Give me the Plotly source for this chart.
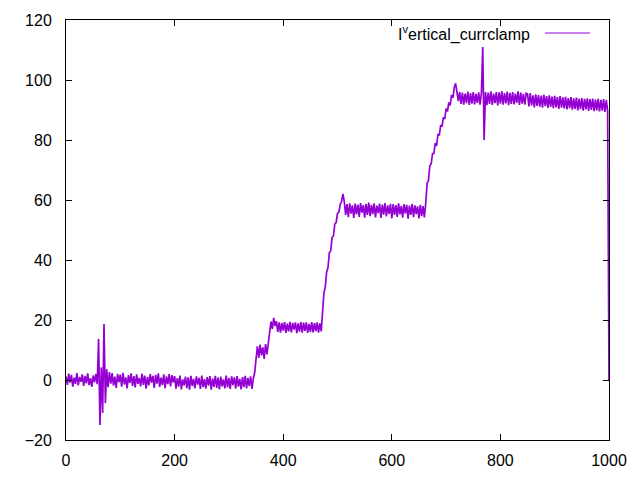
import plotly.graph_objects as go

# ---- data (sample step 2.5 on x) ----
x_step = 2.5
seg_base_a = [1.2, -1.6, 2.1, -0.9, 1.7, -2.2, 0.8, -1.3, 2.3, -1.8,
              1.0, -0.6, 1.9, -2.0, 1.4, -1.1, 2.2, -1.7, 0.6, -2.3,
              1.5, -0.8, 2.0, -1.4]
seg_spike_a = [13.7, -15.0, 4.2, -11.0, 18.7, -7.7, 3.6]
seg_base_b = [-2.4, 2.6, -1.2, 2.3, -1.9, 1.1, -2.6, 2.0, -0.7, 1.8,
              -2.2, 2.4, -1.5, 0.9, -2.8, 1.6, -1.0, 2.2, -2.0, 1.3,
              -2.5, 1.9, -1.3, 0.7, -2.1, 2.1, -1.6, 1.5, -2.9, 1.0,
              -1.8, 2.0, -0.9, 1.4, -2.6, 1.7, -1.2, 2.2, -2.3, 0.8,
              -1.7, 1.9, -2.7, 1.2, -1.4, 2.0, -2.1, 1.6, -0.8]
seg_base_c = [1.3, -2.9, 0.6, -2.2, 1.5, -3.1, 0.2, -1.8, 1.1, -2.7,
              0.9, -3.2, 1.4, -2.0, 0.4, -2.8, 1.2, -1.5, 0.7, -3.0,
              1.5, -2.4, 0.3, -2.9, 1.0, -1.9, 1.3, -3.2, 0.5, -2.3,
              1.4, -2.6, 0.8, -3.1, 1.1, -2.1, 0.2, -2.8, 1.5, -2.5,
              0.6, -3.0, 1.2, -1.7, 0.9, -2.9, 1.3, -2.2, 0.4, -3.1,
              1.0, -2.4, 1.4, -2.8, 0.7, -2.0, 1.2, -3.0, 0.5]
seg_step10 = [2.5, 7.0, 11.2, 7.4, 11.8, 8.2, 10.9, 7.0, 12.0, 8.5]
seg_rise20 = [12.5, 16.0, 19.5, 17.0, 20.7]
seg_plat20 = [18.0, 19.6, 16.0, 19.2, 15.8, 19.0, 16.5, 19.3, 15.7, 18.8,
              16.2, 19.4, 15.9, 19.0, 16.8, 19.2, 15.6, 18.9, 16.1, 19.3,
              15.8, 19.1, 16.4, 19.2, 15.7, 18.7, 16.0, 19.3, 15.9, 19.0,
              16.3, 19.2, 15.8, 18.9, 16.2]
seg_rise60 = [23.0, 29.0, 31.0, 36.0, 37.5, 42.5, 43.0, 47.5, 48.0, 52.0,
              52.5, 55.5, 56.0, 58.5, 59.5, 62.0]
seg_plat56 = [59.5, 55.0, 58.6, 54.3, 58.9, 55.5, 58.2, 54.0, 58.8, 55.2,
              58.5, 54.4, 59.0, 55.8, 58.3, 54.1, 58.7, 55.0, 59.1, 54.6,
              58.4, 55.3, 58.9, 54.2, 58.1, 55.6, 58.8, 54.0, 58.5, 55.1,
              59.0, 54.5, 58.2, 55.4, 58.7, 53.9, 58.6, 55.0, 58.3, 54.4,
              58.9, 55.2, 58.0, 54.1, 58.6, 55.5, 58.4, 53.8, 58.1, 55.0,
              58.7, 54.3, 58.2, 55.3, 57.9, 53.9, 58.4, 54.6, 58.0, 54.2]
seg_rise95 = [59.0, 65.5, 66.5, 71.5, 72.0, 75.5, 75.5, 79.0, 78.0, 82.0,
              81.5, 85.0, 84.5, 87.5, 87.0, 90.5, 89.5, 92.5, 91.5, 95.0,
              94.0, 97.5, 98.9, 96.5]
seg_plat94a = [93.0, 96.0, 92.0, 95.8, 91.8, 95.5, 92.3, 96.1, 91.7, 95.6,
               92.1, 96.0, 91.9, 95.4, 92.4, 95.9, 91.8]
seg_spike_b = [95.5, 111.0, 80.0]
seg_plat94b = [96.0, 91.6, 95.8, 92.0, 96.2, 91.7, 95.5, 92.3, 96.0, 91.5,
               95.9, 92.1, 96.3, 91.8, 95.6, 92.2, 96.1, 91.6, 95.7, 92.0,
               96.0, 91.9, 95.5, 92.4, 96.2, 91.7, 95.8, 92.1, 95.4, 91.8,
               95.6]
seg_plat92 = [95.3, 91.2, 95.6, 91.5, 94.9, 90.9, 95.2, 91.4, 95.0, 91.1,
              94.8, 90.8, 95.1, 91.3, 94.6, 90.7, 94.9, 91.0, 94.5, 90.6,
              94.7, 90.9, 94.3, 90.4, 94.6, 90.8, 94.2, 90.5, 94.4, 90.2,
              94.0, 90.6, 94.3, 90.1, 93.9, 90.4, 94.1, 89.9, 93.8, 90.3,
              94.0, 89.8, 93.7, 90.2, 93.9, 89.7, 93.6, 90.0, 93.8, 89.6,
              93.5, 89.9, 93.7, 89.5, 93.4, 89.8, 93.6, 89.4, 93.3, 89.7]
seg_end = [0.0]

y_values = (seg_base_a + seg_spike_a + seg_base_b + seg_base_c + seg_step10 +
            seg_rise20 + seg_plat20 + seg_rise60 + seg_plat56 + seg_rise95 +
            seg_plat94a + seg_spike_b + seg_plat94b + seg_plat92 + seg_end)
x_values = [i * x_step for i in range(len(y_values))]

x_ticks = [0, 200, 400, 600, 800, 1000]
y_ticks = [-20, 0, 20, 40, 60, 80, 100, 120]
series_name = "I<sup>v</sup>ertical_currclamp"

line_color = "#9400D3"
font_family = "Liberation Sans, Arial, sans-serif"

fig = go.Figure()
fig.add_trace(go.Scatter(x=x_values, y=y_values, mode="lines",
                         line=dict(color=line_color, width=1.7),
                         showlegend=False))

axis_common = dict(showline=True, linecolor="black", linewidth=1,
                   mirror="allticks", ticks="inside", ticklen=6,
                   tickcolor="black", tickwidth=1, showgrid=False,
                   zeroline=False, automargin=False,
                   tickfont=dict(family=font_family, size=16, color="black"))

fig.update_xaxes(range=[0, 1000], tickvals=x_ticks, ticklabelstandoff=6, **axis_common)
fig.update_yaxes(range=[-20, 120], tickvals=y_ticks, ticklabelstandoff=10, **axis_common)

# gnuplot-style key: text then line sample to its right
fig.add_annotation(xref="paper", yref="paper", x=0.858, y=0.969,
                   text=series_name, showarrow=False, xanchor="right",
                   yanchor="middle",
                   font=dict(family=font_family, size=16, color="black"))
fig.add_shape(type="line", xref="paper", yref="paper",
              x0=0.882, x1=0.965, y0=0.969, y1=0.969,
              line=dict(color=line_color, width=1))

# page body has an 8px margin, so the plot area is offset to land at 66..609 x 20..440
fig.update_layout(width=640, height=480,
                  margin=dict(l=58, r=39, t=12, b=48),
                  plot_bgcolor="white", paper_bgcolor="white",
                  font=dict(family=font_family, size=16, color="black"))

fig.write_html("out.html")
